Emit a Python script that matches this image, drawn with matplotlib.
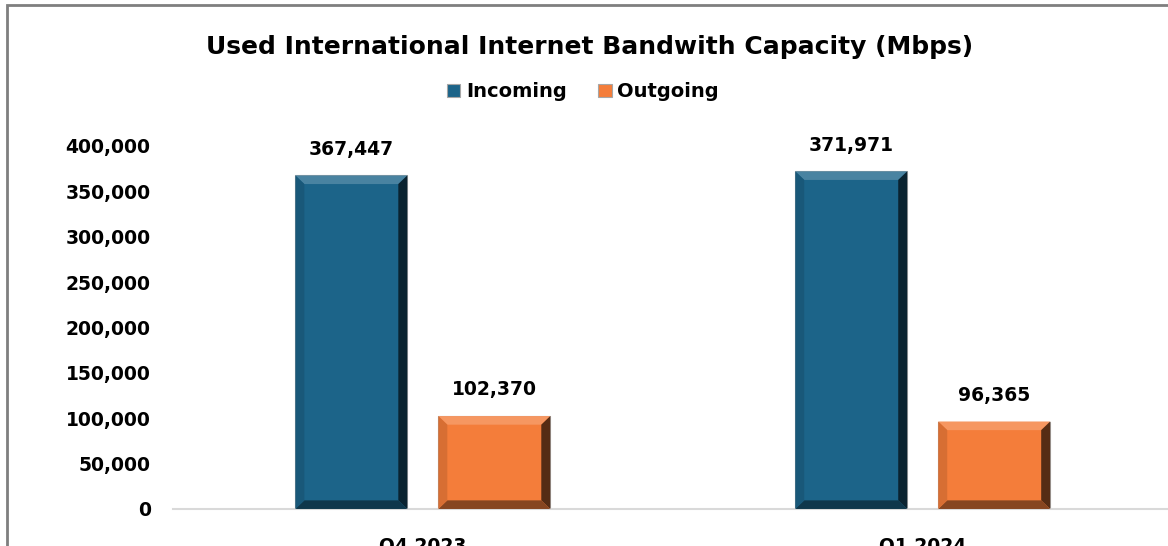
import matplotlib.pyplot as plt
from matplotlib.patches import Polygon, Rectangle
from matplotlib.ticker import FuncFormatter
import numpy as np

plt.rcParams['font.family'] = ['DejaVu Sans']

# data
quarters = ["Q4 2023", "Q1 2024"]
incoming = [367447, 371971]
outgoing = [102370, 96365]
series_names = ["Incoming", "Outgoing"]
colors = ["#1C6489", "#F47D3A"]


def bevel(ax, bar, base_color, dx=0.018, dy=9500):
    # fake the Excel bevel: light top, dark right/bottom
    x0, y0 = bar.get_x(), bar.get_y()
    x1, y1 = x0 + bar.get_width(), y0 + bar.get_height()
    c = np.array(plt.matplotlib.colors.to_rgb(base_color))
    light = np.clip(c + (1 - c) * 0.2, 0, 1)
    dark = c * 0.55
    darker = c * 0.35
    faces = [
        ([(x0, y1), (x1, y1), (x1 - dx, y1 - dy), (x0 + dx, y1 - dy)], light),
        ([(x1, y1), (x1, y0), (x1 - dx, y0 + dy), (x1 - dx, y1 - dy)], darker),
        ([(x0, y0), (x1, y0), (x1 - dx, y0 + dy), (x0 + dx, y0 + dy)], dark),
        ([(x0, y0), (x0, y1), (x0 + dx, y1 - dy), (x0 + dx, y0 + dy)], c * 0.88),
    ]
    for pts, col in faces:
        ax.add_patch(Polygon(pts, closed=True, facecolor=col, edgecolor="none",
                             zorder=3, clip_on=False))


fig = plt.figure(figsize=(11.68, 5.46), dpi=100)
ax = fig.add_axes([0.148, 0.0678, 0.856, 0.665])

x = np.arange(len(quarters))
w = 0.224
off = 0.143
b1 = ax.bar(x - off, incoming, w, color=colors[0], edgecolor="#A6A6A6",
            linewidth=0.8, label=series_names[0], zorder=2)
b2 = ax.bar(x + off, outgoing, w, color=colors[1], edgecolor="#A6A6A6",
            linewidth=0.8, label=series_names[1], zorder=2)

for bars, col in [(b1, colors[0]), (b2, colors[1])]:
    for b in bars:
        bevel(ax, b, col)
        ax.annotate(f"{int(b.get_height()):,}",
                    (b.get_x() + b.get_width() / 2, b.get_height()),
                    xytext=(0, 12), textcoords="offset points",
                    ha="center", va="bottom", fontsize=13.5, fontweight="bold")

ax.set_xlim(-0.5, 1.5)
ax.set_ylim(0, 400000)
ax.set_yticks(np.arange(0, 400001, 50000))
ax.yaxis.set_major_formatter(FuncFormatter(lambda v, p: f"{int(v):,}"))
ax.set_xticks(x)
ax.set_xticklabels(quarters)
ax.tick_params(axis="both", length=0, labelsize=13.5)
ax.tick_params(axis="x", pad=20)
ax.tick_params(axis="y", pad=16)
for lab in ax.get_xticklabels() + ax.get_yticklabels():
    lab.set_fontweight("bold")

for s in ["top", "right", "left"]:
    ax.spines[s].set_visible(False)
ax.spines["bottom"].set_color("#D9D9D9")
ax.spines["bottom"].set_linewidth(1.5)

fig.text(0.505, 0.914, "Used International Internet Bandwith Capacity (Mbps)",
         ha="center", va="center", fontsize=18, fontweight="bold")

leg = fig.legend(handles=[b1, b2], labels=series_names, loc="center",
                 bbox_to_anchor=(0.499, 0.832), ncol=2, frameon=False,
                 handlelength=0.7, handleheight=0.7, handletextpad=0.3,
                 columnspacing=1.6, prop={"size": 14, "weight": "bold"})

fig.patches.append(Rectangle((7 / 1168, -0.1), 1.2, 1 - 5 / 546 + 0.1,
                             transform=fig.transFigure, fill=False,
                             edgecolor="#7F7F7F", linewidth=2))

fig.savefig("out.png", dpi=100)
